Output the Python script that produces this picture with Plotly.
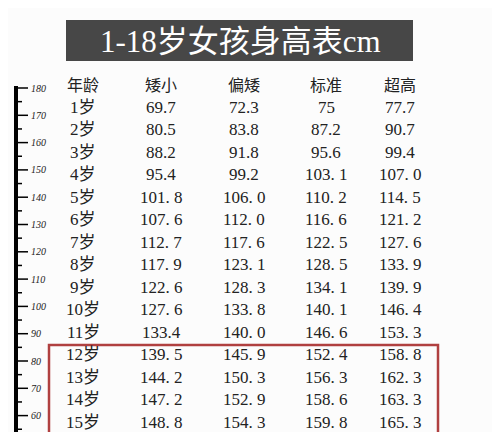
import plotly.graph_objects as go

title = "1-18岁女孩身高表cm"
headers = ["年龄", "矮小", "偏矮", "标准", "超高"]
ages = ["1岁","2岁","3岁","4岁","5岁","6岁","7岁","8岁","9岁","10岁","11岁","12岁","13岁","14岁","15岁"]
short = ["69.7","80.5","88.2","95.4","101. 8","107. 6","112. 7","117. 9","122. 6","127. 6","133.4","139. 5","144. 2","147. 2","148. 8"]
below = ["72.3","83.8","91.8","99.2","106. 0","112. 0","117. 6","123. 1","128. 3","133. 8","140. 0","145. 9","150. 3","152. 9","154. 3"]
standard = ["75","87.2","95.6","103. 1","110. 2","116. 6","122. 5","128. 5","134. 1","140. 1","146. 6","152. 4","156. 3","158. 6","159. 8"]
tall = ["77.7","90.7","99.4","107. 0","114. 5","121. 2","127. 6","133. 9","139. 9","146. 4","153. 3","158. 8","162. 3","163. 3","165. 3"]
ruler_labels = [180,170,160,150,140,130,120,110,100,90,80,70,60]

W, H = 500, 432
fig = go.Figure()
font = "Liberation Serif, Noto Sans CJK SC, serif"
cols_x = [75, 153, 236, 318, 392]
shapes = [
    dict(type="rect", x0=58, x1=405, y0=H-12, y1=H-53, fillcolor="#474747", line_width=0, layer="below"),
    dict(type="rect", x0=41, x1=430, y0=H-337, y1=H-430, line=dict(color="#b04040", width=2.5)),
    dict(type="line", x0=8, x1=8, y0=H-78, y1=0, line=dict(color="black", width=4)),
]
ann = [dict(x=232, y=H-33, text=title, showarrow=False, font=dict(family=font, size=31, color="white"))]
for x, h in zip(cols_x, headers):
    ann.append(dict(x=x, y=H-76, text=h, showarrow=False, font=dict(family="Noto Sans CJK SC", size=16, color="#222")))
cols = [ages, short, below, standard, tall]
for i in range(len(ages)):
    y = H - (99 + i * 22.5)
    for x, col in zip(cols_x, cols):
        ann.append(dict(x=x, y=y, text=col[i], showarrow=False, font=dict(family=font, size=17, color="#222")))
step = 27.3
for i, lab in enumerate(ruler_labels):
    y = H - (80 + i * step)
    shapes.append(dict(type="line", x0=8, x1=20, y0=y, y1=y, line=dict(color="black", width=1.5)))
    shapes.append(dict(type="line", x0=8, x1=14, y0=y - step / 2, y1=y - step / 2, line=dict(color="black", width=1.5)))
    ann.append(dict(x=21, y=y, text=f"<i>{lab}</i>", xanchor="left", showarrow=False, font=dict(family=font, size=10, color="#222")))
fig.update_layout(width=W, height=H, margin=dict(l=0, r=0, t=0, b=0),
                  paper_bgcolor="#fcfcfc", plot_bgcolor="#fcfcfc",
                  xaxis=dict(range=[0, W], visible=False), yaxis=dict(range=[0, H], visible=False),
                  shapes=shapes, annotations=ann, showlegend=False)
fig.write_html("out.html")
